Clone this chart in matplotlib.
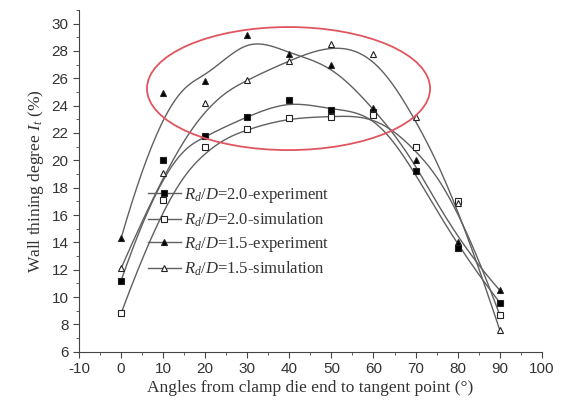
import numpy as np
import matplotlib
matplotlib.use("Agg")
from matplotlib import pyplot as plt
from matplotlib.patches import Ellipse
from matplotlib.ticker import MultipleLocator

angles = [0, 10, 20, 30, 40, 50, 60, 70, 80, 90]
exp20 = [11.2, 20.0, 21.8, 23.2, 24.4, 23.7, 23.5, 19.2, 13.6, 9.6]
sim20 = [8.8, 17.1, 21.0, 22.3, 23.1, 23.2, 23.3, 21.0, 17.0, 8.7]
exp15 = [14.3, 24.9, 25.8, 29.2, 27.8, 27.0, 23.8, 20.0, 14.0, 10.5]
sim15 = [12.1, 19.1, 24.2, 25.9, 27.3, 28.5, 27.8, 23.2, 16.9, 7.6]
labels = [r"$R_d/D$=2.0-experiment", r"$R_d/D$=2.0-simulation",
          r"$R_d/D$=1.5-experiment", r"$R_d/D$=1.5-simulation"]

def bspline(xs, ys, k=3, n=300):
    # clamped B-spline with the points as control points (like Origin)
    P = np.column_stack([xs, ys]).astype(float)
    m = len(P)
    kn = np.concatenate([np.zeros(k), np.linspace(0, 1, m - k + 1), np.ones(k)])
    t = np.linspace(0, 1 - 1e-9, n)
    N = np.zeros((n, len(kn) - 1))
    for i in range(len(kn) - 1):
        N[:, i] = (t >= kn[i]) & (t < kn[i + 1])
    for d in range(1, k + 1):
        N2 = np.zeros((n, len(kn) - 1 - d))
        for i in range(len(kn) - 1 - d):
            a = 0 if kn[i + d] == kn[i] else (t - kn[i]) / (kn[i + d] - kn[i])
            b = 0 if kn[i + d + 1] == kn[i + 1] else (kn[i + d + 1] - t) / (kn[i + d + 1] - kn[i + 1])
            N2[:, i] = a * N[:, i] + b * N[:, i + 1]
        N = N2
    C = N @ P
    return C[:, 0], C[:, 1]

plt.rcParams['font.family'] = ['Liberation Serif']
plt.rcParams['mathtext.fontset'] = 'custom'
plt.rcParams['mathtext.it'] = 'Liberation Serif:italic'
plt.rcParams['mathtext.rm'] = 'Liberation Serif'
plt.rcParams['axes.unicode_minus'] = False

fig = plt.figure(figsize=(5.62, 4.15), dpi=100)
ax = fig.add_axes([0.1406, 0.1525, 0.8234, 0.8235])

series = [(exp20, 's', 'k'), (sim20, 's', 'w'), (exp15, '^', 'k'), (sim15, '^', 'w')]
lc = '#606060'
for (ys, mk, fc), lab in zip(series, labels):
    cx, cy = bspline(angles, ys)
    ax.plot(cx, cy, color=lc, lw=1.0, zorder=2)
    ax.plot(angles, ys, ls='none', marker=mk, ms=4.5, mfc=fc, mec='#222222', mew=0.8, zorder=3)
    ax.plot([], [], color=lc, lw=1.0, marker=mk, ms=4.5, mfc=fc, mec='#222222', mew=0.8, label=lab)

ax.add_patch(Ellipse((39.8, 25.25), 67.3, 9.0, fill=False, ec='#e05560', lw=1.3, zorder=4))

ax.set_xlim(-10, 100)
ax.set_ylim(6, 31)
ax.xaxis.set_major_locator(MultipleLocator(10))
ax.xaxis.set_minor_locator(MultipleLocator(5))
ax.yaxis.set_major_locator(MultipleLocator(2))
ax.yaxis.set_minor_locator(MultipleLocator(1))
ax.spines['top'].set_visible(False)
ax.spines['right'].set_visible(False)
for s in ('left', 'bottom'):
    ax.spines[s].set_color('#444444')
ax.tick_params(which='major', length=4, color='#444444', direction='out')
ax.tick_params(which='minor', length=2.5, color='#444444', direction='out')
for lb in ax.get_xticklabels() + ax.get_yticklabels():
    lb.set_fontfamily('Liberation Sans')
    lb.set_fontsize(11)
    lb.set_color('#333333')

ax.set_xlabel("Angles from clamp die end to tangent point (°)", fontsize=12.5, color='#333333', labelpad=3)
ax.set_ylabel(r"Wall thining degree $I_t$ (%)", fontsize=12.5, color='#333333', labelpad=4)

leg = ax.legend(loc='upper left', bbox_to_anchor=(0.13, 0.51), frameon=False, fontsize=12,
                handlelength=2.0, handletextpad=0.2, labelspacing=0.35, borderpad=0)
for t in leg.get_texts():
    t.set_color('#333333')

fig.savefig("out.png", dpi=100)
